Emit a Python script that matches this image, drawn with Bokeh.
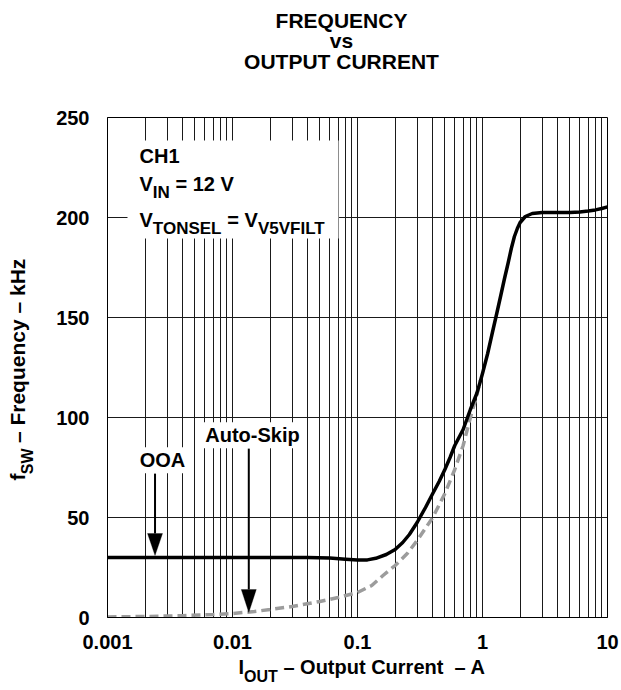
import math
from bokeh.plotting import figure
from bokeh.layouts import column, row
from bokeh.models import Range1d, FixedTicker, Label, BoxAnnotation, PolyAnnotation
from bokeh.embed import file_html
from bokeh.resources import INLINE

# ---------------- data ----------------
title_lines = ["FREQUENCY", "vs", "OUTPUT CURRENT"]
x_major_ticks = [0.001, 0.01, 0.1, 1, 10]
x_tick_labels = ["0.001", "0.01", "0.1", "1", "10"]
x_minor_ticks = [0.002, 0.003, 0.004, 0.005, 0.006, 0.007, 0.008, 0.009,
                 0.02, 0.03, 0.04, 0.05, 0.06, 0.07, 0.08, 0.09,
                 0.2, 0.3, 0.4, 0.5, 0.6, 0.7, 0.8, 0.9,
                 2, 3, 4, 5, 6, 7, 8, 9]
y_ticks = [0, 50, 100, 150, 200, 250]

# solid curve (OOA mode)
ooa_current = [0.001, 0.002, 0.005, 0.01, 0.02, 0.04, 0.06, 0.08, 0.1, 0.12,
               0.14, 0.17, 0.2, 0.23, 0.26, 0.3, 0.35, 0.4, 0.45, 0.5,
               0.55, 0.6, 0.7, 0.8, 0.9, 0.96, 1.0, 1.1, 1.2, 1.3,
               1.4, 1.5, 1.6, 1.7, 1.8, 1.9, 2.0, 2.2, 2.5, 3.0,
               4.0, 5.0, 6.0, 7.0, 8.0, 9.0, 10.0]
ooa_freq = [30.0, 30.0, 30.0, 30.0, 30.0, 30.0, 29.7, 29.1, 28.7, 28.8,
            29.6, 31.5, 34.0, 37.5, 41.5, 47.5, 55.0, 62.0, 68.0, 74.0,
            80.0, 86.0, 94.0, 104.0, 112.0, 118.0, 122.0, 132.0, 142.5, 152.0,
            161.0, 169.5, 177.0, 184.5, 190.5, 194.5, 197.5, 200.5, 202.0, 202.5,
            202.5, 202.5, 202.8, 203.2, 203.8, 204.5, 205.3]

# dashed curve (Auto-Skip mode)
autoskip_current = [0.001, 0.002, 0.004, 0.007, 0.01, 0.015, 0.02, 0.03, 0.05, 0.07,
                    0.1, 0.13, 0.16, 0.2, 0.25, 0.3, 0.4, 0.5, 0.6, 0.7,
                    0.8, 0.9, 0.96]
autoskip_freq = [0.3, 0.5, 0.9, 1.5, 2.0, 3.0, 4.0, 5.5, 8.0, 10.0,
                 12.5, 16.0, 21.0, 26.0, 32.0, 38.5, 50.0, 62.0, 74.0, 86.0,
                 100.0, 111.0, 118.5]

ooa_arrow_current = 0.0024
autoskip_arrow_current = 0.0135

# ---------------- layout constants (page pixels) ----------------
FONT = "Liberation Sans"
PAGE_W = 620
TITLE_H = 100
MID_H = 555
XLAB_H = 33
YLAB_W = 50
FRAME_LEFT_PAGE = 107
FRAME_TOP_PAGE = 117
FRAME_SIZE = 500
FRAME_BOTTOM_PAGE = FRAME_TOP_PAGE + FRAME_SIZE
PX_PER_DECADE = 125.0
PX_PER_KHZ = 2.0
DROP_K = 0.36    # empirical baseline correction of Label text
ALONG_PX = 16    # empirical start correction of rotated Label text

W = {' ': 278, '-': 333, '–': 556, '=': 584, '.': 278}
for d in "0123456789":
    W[d] = 556
W.update(dict(A=722, B=722, C=722, D=722, E=667, F=611, G=778, H=722, I=278, J=556,
              K=722, L=611, M=833, N=722, O=778, P=667, Q=778, R=722, S=667, T=611,
              U=722, V=667, W=944, X=667, Y=667, Z=611))
W.update(dict(a=556, b=611, c=556, d=611, e=556, f=333, g=611, h=611, i=278, j=278,
              k=556, l=278, m=889, n=611, o=611, p=611, q=611, r=389, s=556, t=333,
              u=611, v=556, w=778, x=556, y=556, z=500))


def tw(s, size):
    return sum(W.get(c, 600) for c in s) / 1000.0 * size


def lbl(text, x, y, size, units="screen", align="left", vertical=False, bg=None):
    if vertical:
        x -= DROP_K * size
        y -= ALONG_PX
    else:
        y += DROP_K * size
    kw = dict(x=x, y=y, x_units=units, y_units=units, text=text,
              text_font=FONT, text_font_size=f"{size}px", text_font_style="bold",
              text_color="black", text_align=align, text_baseline="alphabetic",
              angle=math.pi / 2 if vertical else 0.0)
    if bg is not None:
        kw.update(background_fill_color=bg, background_fill_alpha=1.0, padding=2)
    return Label(**kw)


def run(fig, conv, units, pieces, page_x, page_y, vertical=False):
    """Place text pieces one after another; each piece = (text, size, baseline drop, extra gap)."""
    pos = page_y if vertical else page_x
    sign = -1 if vertical else 1
    for text, size, drop, gap in pieces:
        stripped = text.lstrip(" ")
        pos += sign * (tw(text[:len(text) - len(stripped)], size) + gap)
        if vertical:
            x, y = conv(page_x + drop, pos)
            fig.add_layout(lbl(stripped, x, y, size, units=units, vertical=True))
        else:
            x, y = conv(pos, page_y + drop)
            fig.add_layout(lbl(stripped, x, y, size, units=units))
        pos += sign * tw(stripped, size)


def blank_fig(w, h):
    f = figure(width=w, height=h, x_range=Range1d(0, w), y_range=Range1d(0, h),
               min_border=0, output_backend="svg", toolbar_location=None, title=None,
               x_axis_location=None, y_axis_location=None, outline_line_color=None,
               background_fill_color="white", border_fill_color="white")
    f.grid.visible = False
    return f


# ---------------- main figure ----------------
p = figure(x_axis_type="log", x_range=Range1d(0.001, 10), y_range=Range1d(0, 250),
           frame_width=FRAME_SIZE, frame_height=FRAME_SIZE,
           min_border_left=FRAME_LEFT_PAGE - YLAB_W, min_border_top=FRAME_TOP_PAGE - TITLE_H,
           min_border_right=PAGE_W - FRAME_LEFT_PAGE - FRAME_SIZE,
           min_border_bottom=TITLE_H + MID_H - FRAME_BOTTOM_PAGE,
           output_backend="svg", toolbar_location=None, title=None,
           background_fill_color="white", border_fill_color="white")

p.xaxis.ticker = FixedTicker(ticks=x_major_ticks, minor_ticks=x_minor_ticks)
p.xaxis.major_label_overrides = {t: l for t, l in zip(x_major_ticks, x_tick_labels)}
p.yaxis.ticker = FixedTicker(ticks=y_ticks)

for ax in (p.xaxis[0], p.yaxis[0]):
    ax.major_tick_line_color = None
    ax.minor_tick_line_color = None
    ax.axis_line_color = "black"
    ax.axis_line_width = 1
    ax.major_label_text_font = FONT
    ax.major_label_text_font_size = "20px"
    ax.major_label_text_font_style = "bold"
    ax.major_label_text_color = "black"
p.xaxis.major_label_standoff = 11
p.yaxis.major_label_standoff = 12

p.xgrid.grid_line_color = "#1a1a1a"
p.xgrid.minor_grid_line_color = "#1a1a1a"
p.xgrid.grid_line_width = 1
p.xgrid.minor_grid_line_width = 1
p.ygrid.grid_line_color = "#1a1a1a"
p.ygrid.grid_line_width = 1
p.outline_line_color = "black"
p.outline_line_width = 1
p.outline_line_alpha = 1

# curves
p.line(autoskip_current, autoskip_freq, line_color="#9c9c9c", line_width=3.5, line_dash="9 5")
p.line(ooa_current, ooa_freq, line_color="black", line_width=3.5, line_join="round")


def fconv(page_x, page_y):
    return page_x - FRAME_LEFT_PAGE, FRAME_BOTTOM_PAGE - page_y


# CH1 info box
bl, bb = fconv(127, 238)
br, bt = fconv(338, 140)
p.add_layout(BoxAnnotation(left=bl, right=br, top=bt, bottom=bb,
                           left_units="screen", right_units="screen",
                           top_units="screen", bottom_units="screen",
                           fill_color="white", fill_alpha=1.0, line_color=None))
run(p, fconv, "screen", [("CH1", 20, 0, 0)], 139, 163)
run(p, fconv, "screen", [("V", 20, 0, 0), ("IN", 17, 7, 0), (" = 12 V", 20, 0, 0)], 139, 191)
run(p, fconv, "screen", [("V", 20, 0, 0), ("TONSEL", 17, 7, 0), (" = V", 20, 0, 0),
                         ("V5VFILT", 17, 7, 0)], 139, 227)


# arrows
def sx_of(cur):
    return PX_PER_DECADE * (math.log10(cur) - math.log10(x_major_ticks[0]))


def arrow(cur, top_page_y, base_page_y, tip_page_y):
    x = sx_of(cur)
    _, top_s = fconv(0, top_page_y)
    _, base_s = fconv(0, base_page_y)
    _, tip_s = fconv(0, tip_page_y)
    p.segment(x0=[cur], y0=[top_s / PX_PER_KHZ], x1=[cur], y1=[base_s / PX_PER_KHZ],
              line_color="black", line_width=2)
    p.add_layout(PolyAnnotation(xs=[x - 7.5, x + 7.5, x], ys=[base_s, base_s, tip_s],
                                xs_units="screen", ys_units="screen",
                                fill_color="black", fill_alpha=1.0, line_color="black", line_width=1))


arrow(ooa_arrow_current, 473, 533, 555)
arrow(autoskip_arrow_current, 448, 589, 612)

ox, oy = fconv(162, 467)
p.add_layout(lbl("OOA", ox, oy, 20, align="center", bg="white"))
ax_, ay_ = fconv(252, 442)
p.add_layout(lbl("Auto-Skip", ax_, ay_, 20, align="center", bg="white"))

# ---------------- title strip ----------------
tfig = blank_fig(PAGE_W, TITLE_H)
for line, base in zip(title_lines, (28, 48, 69)):
    tfig.add_layout(lbl(line, 341, TITLE_H - base, 21, units="data", align="center"))

# ---------------- y label strip ----------------
yfig = blank_fig(YLAB_W, MID_H)
run(yfig, lambda px, py: (px, TITLE_H + MID_H - py), "data",
    [("f", 21, 0, 0), ("SW", 16, 8, 0), (" – Frequency – kHz", 21, 0, 3)], 25, 487, vertical=True)

# ---------------- x label strip ----------------
xfig = blank_fig(PAGE_W, XLAB_H)
XTOP = TITLE_H + MID_H
run(xfig, lambda px, py: (px, XTOP + XLAB_H - py), "data",
    [("I", 20, 0, 0), ("OUT", 16, 8, 0), (" – Output Current", 20, 0, 0), ("  – A", 20, 0, 0)], 238, 674)

layout = column(tfig, row(yfig, p), xfig)
open("out.html", "w").write(file_html(layout, INLINE))
